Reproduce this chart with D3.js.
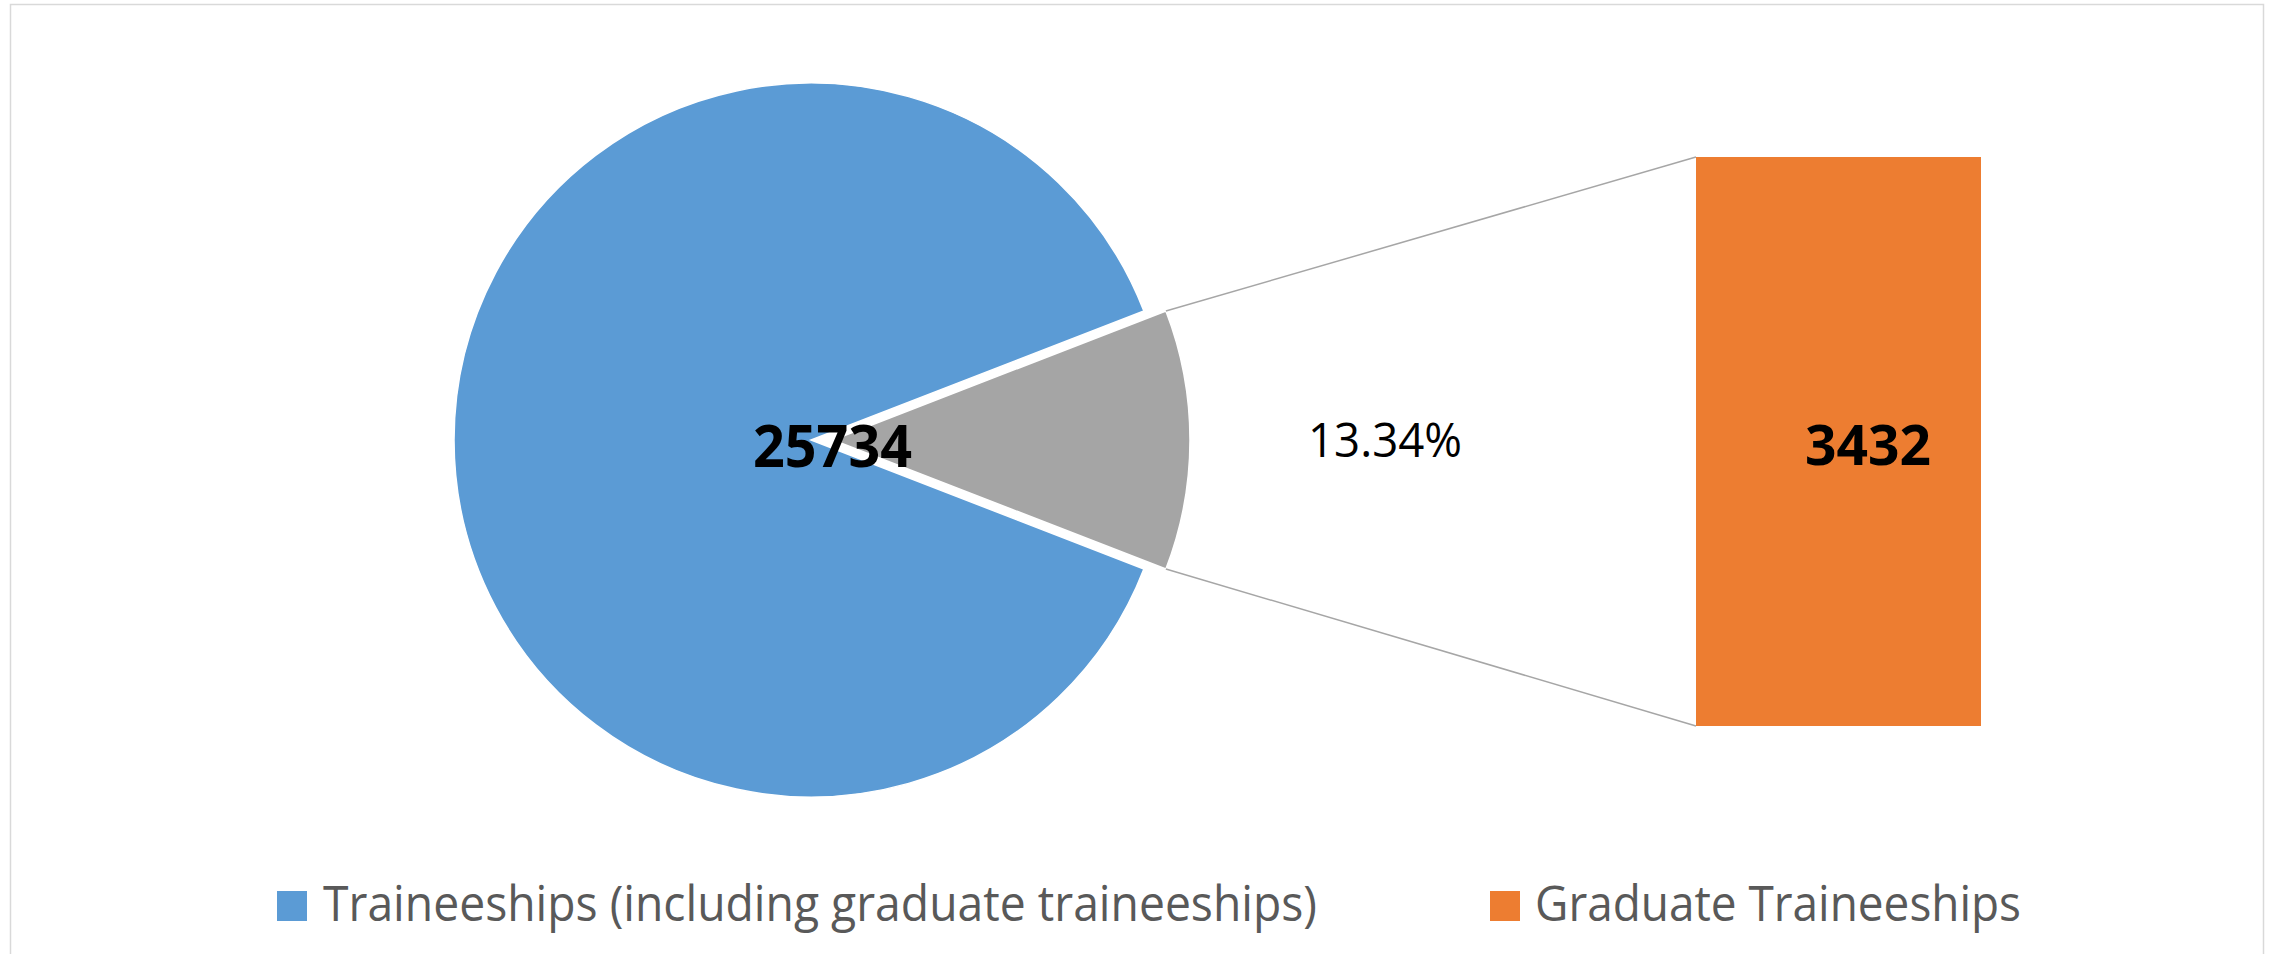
<!DOCTYPE html>
<html>
<head>
<meta charset="utf-8">
<script src="https://cdn.jsdelivr.net/npm/d3@7"></script>
<style>
  html, body { margin: 0; padding: 0; background: #ffffff; }
  svg { display: block; }
</style>
</head>
<body>
<svg id="chart" width="2272" height="954"></svg>
<script>
// ---- data ----
const categories = ["Traineeships (including graduate traineeships)", "Graduate Traineeships"];
const values = [25734, 3432];
const pieNames = ["Traineeships", "Other"];
const colors = ["#5B9BD5", "#ED7D31"];
const otherColor = "#A5A5A5";

const svg = d3.select("#chart");

// chart frame
svg.append("rect")
  .attr("x", 10.5).attr("y", 4.5)
  .attr("width", 2253).attr("height", 960)
  .attr("fill", "#ffffff").attr("stroke", "#d9d9d9").attr("stroke-width", 1.5);

// ---- pie ----
const cx = 811, cy = 440, R = 357, explode = 22;
const total = d3.sum(values);
const half = Math.PI * values[1] / total; // half angle of the "other" slice
const pie = d3.pie().sort(null)
  .startAngle(Math.PI / 2 + half)
  .endAngle(Math.PI / 2 + half + 2 * Math.PI);
const arcs = pie(values);
const arc = d3.arc().innerRadius(0).outerRadius(R);

const g = svg.append("g").attr("transform", `translate(${cx},${cy})`);
g.selectAll("path.slice")
  .data(arcs)
  .join("path")
  .attr("class", "slice")
  .attr("transform", (d, i) => i === 1 ? `translate(${explode},0)` : null)
  .attr("d", arc)
  .attr("fill", (d, i) => i === 0 ? colors[0] : otherColor)
  .attr("stroke", "#ffffff")
  .attr("stroke-width", 1.5);

// ---- bar ----
const barX = d3.scaleBand().domain([categories[1]]).range([1696, 1981]).padding(0);
const barY = d3.scaleLinear().domain([0, values[1]]).range([726, 157]);

// connector lines from "other" slice corners to bar corners
const oA0 = arcs[1].startAngle, oA1 = arcs[1].endAngle;
const corner = a => [cx + explode + R * Math.sin(a), cy - R * Math.cos(a)];
const c0 = corner(oA1); // upper corner (angle < 90deg wraps)
const c1 = corner(oA0);
const upper = c0[1] < c1[1] ? c0 : c1;
const lower = c0[1] < c1[1] ? c1 : c0;
svg.append("line")
  .attr("x1", upper[0]).attr("y1", upper[1])
  .attr("x2", barX(categories[1])).attr("y2", barY(values[1]))
  .attr("stroke", "#a6a6a6").attr("stroke-width", 1.5);
svg.append("line")
  .attr("x1", lower[0]).attr("y1", lower[1])
  .attr("x2", barX(categories[1])).attr("y2", barY(0))
  .attr("stroke", "#a6a6a6").attr("stroke-width", 1.5);

svg.append("rect")
  .attr("x", barX(categories[1]))
  .attr("y", barY(values[1]))
  .attr("width", barX.bandwidth())
  .attr("height", barY(0) - barY(values[1]))
  .attr("fill", colors[1]);

// ---- labels ----
const font = "'Open Sans', 'Noto Sans', sans-serif";
svg.append("text")
  .attr("x", 753).attr("y", 467)
  .attr("font-family", font).attr("font-weight", "bold").attr("font-size", 59)
  .attr("textLength", 159).attr("lengthAdjust", "spacingAndGlyphs")
  .attr("fill", "#000").text(String(values[0]));

const pct = (values[1] / values[0] * 100).toFixed(2) + "%";
svg.append("text")
  .attr("x", 1308).attr("y", 457)
  .attr("font-family", font).attr("font-size", 47)
  .attr("textLength", 154).attr("lengthAdjust", "spacingAndGlyphs")
  .attr("fill", "#000").text(pct);

svg.append("text")
  .attr("x", 1805).attr("y", 465)
  .attr("font-family", font).attr("font-weight", "bold").attr("font-size", 56)
  .attr("textLength", 126).attr("lengthAdjust", "spacingAndGlyphs")
  .attr("fill", "#000").text(String(values[1]));

// ---- legend ----
const legendItems = [
  { name: categories[0], color: colors[0], sx: 277, tx: 323, tw: 994 },
  { name: categories[1], color: colors[1], sx: 1490, tx: 1535, tw: 486 }
];
const lg = svg.append("g");
lg.selectAll("rect.sw").data(legendItems).join("rect")
  .attr("class", "sw")
  .attr("x", d => d.sx).attr("y", 891).attr("width", 30).attr("height", 30)
  .attr("fill", d => d.color);
lg.selectAll("text.lt").data(legendItems).join("text")
  .attr("class", "lt")
  .attr("x", d => d.tx).attr("y", 921)
  .attr("font-family", font).attr("font-size", 49)
  .attr("textLength", d => d.tw).attr("lengthAdjust", "spacingAndGlyphs")
  .attr("fill", "#595959").text(d => d.name);
</script>
</body>
</html>
